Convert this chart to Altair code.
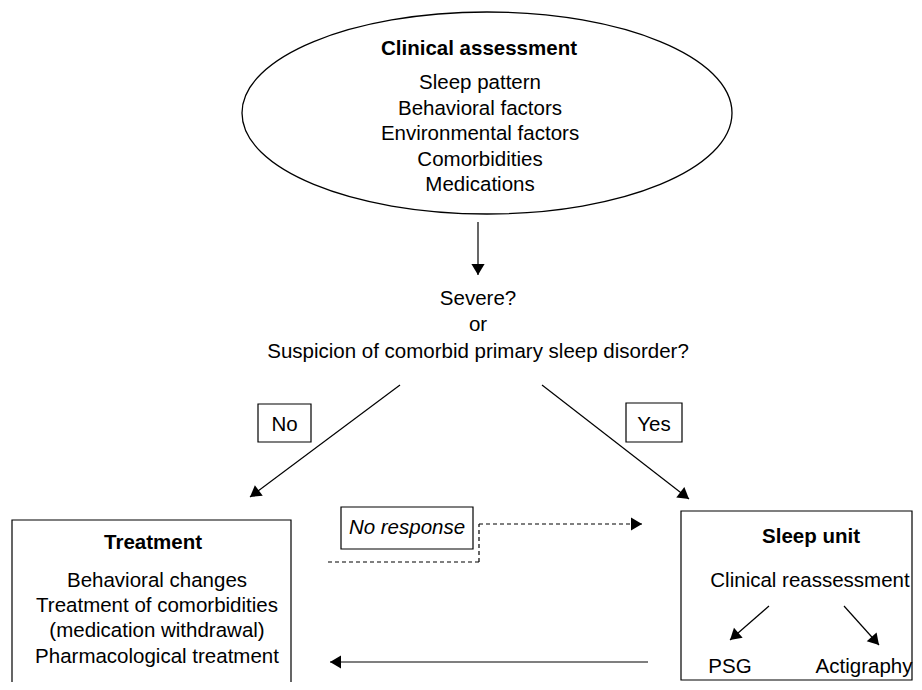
import altair as alt
import pandas as pd
import numpy as np

# ---------------- text content ----------------
ellipse_title = ["Clinical assessment"]
ellipse_items = ["Sleep pattern", "Behavioral factors", "Environmental factors",
                 "Comorbidities", "Medications"]
question_lines = ["Severe?", "or", "Suspicion of comorbid primary sleep disorder?"]
branch_labels = ["No", "Yes"]
treatment_title = ["Treatment"]
treatment_items = ["Behavioral changes", "Treatment of comorbidities",
                   "(medication withdrawal)", "Pharmacological treatment"]
sleep_title = ["Sleep unit"]
sleep_items = ["Clinical reassessment"]
test_items = ["PSG", "Actigraphy"]
feedback_label = ["No response"]

# ---------------- layout (pixel coordinates of the page) ----------------
ellipse_center = (487, 113)
ellipse_radii = (245, 101)

ellipse_title_pos = [(479, 54.5)]
ellipse_items_x = [480] * 5
ellipse_items_y = [89, 114.5, 140, 165.5, 191]
question_x = [478] * 3
question_y = [305, 331, 358]
branch_x = [284.5, 654]
branch_y = [431, 431]
treatment_title_pos = [(153, 549)]
treatment_items_x = [157] * 4
treatment_items_y = [587, 612, 637, 663]
sleep_title_pos = [(811, 543)]
sleep_items_pos = [(810, 587)]
test_x = [730, 864]
test_y = [673, 673]
feedback_pos = [(407, 534)]

# boxes: x, x2, y, y2
box_x = [258, 626, 12, 341, 681]
box_x2 = [311, 682, 291, 473, 912]
box_y = [404, 403, 520, 507, 511]
box_y2 = [442, 442, 720, 549, 680]

# solid connectors (last point of each is an arrow tip)
seg_x = [478, 400, 542, 648, 769, 844]
seg_y = [222, 385, 385, 662, 606, 606]
seg_x2 = [478, 250, 689, 330, 730, 879]
seg_y2 = [275, 497, 499, 662, 640, 645]
seg_arrow = [True, True, True, True, True, True]

# dashed feedback path
dash_x = [328, 479, 479]
dash_y = [562, 562, 524]
dash_x2 = [479, 479, 642]
dash_y2 = [562, 524, 524]
dash_arrow = [False, False, True]

# ---------------- scales ----------------
W, H = 906, 674
X0, Y0 = 8, 8
xs = alt.Scale(domain=[X0, X0 + W], nice=False, zero=False)
ys = alt.Scale(domain=[Y0, Y0 + H], nice=False, zero=False, reverse=True)

FONT = "Liberation Sans"
FS = 20.5
LW = 1.2


def X(f="x"):
    return alt.X(f"{f}:Q", scale=xs, axis=None)


def Y(f="y"):
    return alt.Y(f"{f}:Q", scale=ys, axis=None)


def text_layer(df, **kw):
    return alt.Chart(df).mark_text(font=FONT, fontSize=FS, align="center",
                                   baseline="alphabetic", color="black", **kw).encode(
        x=X(), y=Y(), text="text:N")


# text tables
normal_rows = []
for t, x, y in zip(ellipse_items, ellipse_items_x, ellipse_items_y):
    normal_rows.append((t, x, y))
for t, x, y in zip(question_lines, question_x, question_y):
    normal_rows.append((t, x, y))
for t, x, y in zip(branch_labels, branch_x, branch_y):
    normal_rows.append((t, x, y))
for t, x, y in zip(treatment_items, treatment_items_x, treatment_items_y):
    normal_rows.append((t, x, y))
for t, (x, y) in zip(sleep_items, sleep_items_pos):
    normal_rows.append((t, x, y))
for t, x, y in zip(test_items, test_x, test_y):
    normal_rows.append((t, x, y))
normal_df = pd.DataFrame(normal_rows, columns=["text", "x", "y"])

bold_rows = []
for t, (x, y) in zip(ellipse_title + treatment_title + sleep_title,
                     ellipse_title_pos + treatment_title_pos + sleep_title_pos):
    bold_rows.append((t, x, y))
bold_df = pd.DataFrame(bold_rows, columns=["text", "x", "y"])

italic_df = pd.DataFrame([(t, x, y) for t, (x, y) in zip(feedback_label, feedback_pos)],
                         columns=["text", "x", "y"])

boxes_df = pd.DataFrame({"x": box_x, "x2": box_x2, "y": box_y, "y2": box_y2})
seg_df = pd.DataFrame({"x": seg_x, "y": seg_y, "x2": seg_x2, "y2": seg_y2, "arrow": seg_arrow})
dash_df = pd.DataFrame({"x": dash_x, "y": dash_y, "x2": dash_x2, "y2": dash_y2, "arrow": dash_arrow})

heads = pd.concat([seg_df[seg_df.arrow], dash_df[dash_df.arrow]])
heads = heads.assign(
    angle=np.degrees(np.arctan2(heads.x2 - heads.x, -(heads.y2 - heads.y))) % 360
)
heads_df = pd.DataFrame({"x": heads.x2.values, "y": heads.y2.values, "angle": heads.angle.values})

# ---------------- layers ----------------
ell_df = pd.DataFrame({"x": [ellipse_center[0]], "y": [ellipse_center[1]]})
ry = ellipse_radii[1] / ellipse_radii[0]
ELLIPSE_PATH = f"M-1,0 A1,{ry:.4f} 0 1,1 1,0 A1,{ry:.4f} 0 1,1 -1,0 Z"
ellipse = alt.Chart(ell_df).mark_point(
    shape=ELLIPSE_PATH, size=(2 * ellipse_radii[0]) ** 2, filled=False,
    color="black", strokeWidth=1.3, opacity=1
).encode(x=X(), y=Y())

boxes = alt.Chart(boxes_df).mark_rect(
    fillOpacity=0, stroke="black", strokeWidth=LW
).encode(x=X(), x2="x2:Q", y=Y(), y2="y2:Q")

solid = alt.Chart(seg_df).mark_rule(color="black", strokeWidth=LW).encode(
    x=X(), x2="x2:Q", y=Y(), y2="y2:Q")

dashed = alt.Chart(dash_df).mark_rule(color="black", strokeWidth=LW, strokeDash=[4, 3]).encode(
    x=X(), x2="x2:Q", y=Y(), y2="y2:Q")

ARROW_PATH = "M0,0 L0.6,1 L-0.6,1 Z"
arrowheads = alt.Chart(heads_df).mark_point(
    shape=ARROW_PATH, size=484, filled=True, color="black", opacity=1, strokeWidth=0
).encode(x=X(), y=Y(), angle=alt.Angle("angle:Q", scale=None))

normal_text = text_layer(normal_df)
bold_text = text_layer(bold_df, fontWeight="bold")
italic_text = text_layer(italic_df, fontStyle="italic")

chart = alt.layer(
    ellipse, boxes, solid, dashed, arrowheads, normal_text, bold_text, italic_text
).properties(
    width=W, height=H, padding=0,
    autosize=alt.AutoSizeParams(type="none"),
    background="white",
).configure_view(stroke=None)

chart.save("out.html", embed_options={"renderer": "svg", "actions": False})
